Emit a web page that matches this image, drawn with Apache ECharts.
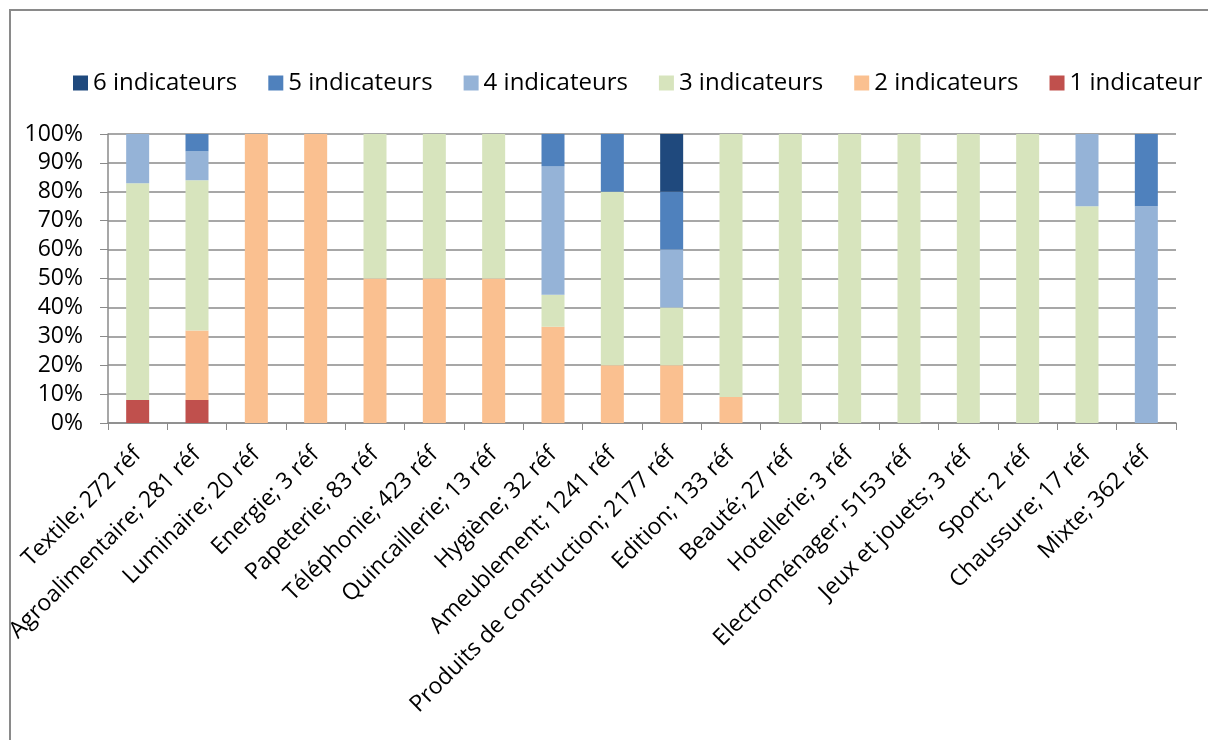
<!DOCTYPE html>
<html>
<head>
<meta charset="utf-8">
<script src="https://cdn.jsdelivr.net/npm/echarts@6/dist/echarts.min.js"></script>
<style>
  html, body { margin: 0; padding: 0; background: #fff; }
  #chart { width: 1208px; height: 740px; }
</style>
</head>
<body>
<div id="chart"></div>
<script>
// Secteurs et nombre de références
const categories = [
  'Textile; 272 réf', 'Agroalimentaire; 281 réf', 'Luminaire; 20 réf', 'Energie; 3 réf',
  'Papeterie; 83 réf', 'Téléphonie; 423 réf', 'Quincaillerie; 13 réf', 'Hygiène; 32 réf',
  'Ameublement; 1241 réf', 'Produits de construction; 2177 réf', 'Edition; 133 réf',
  'Beauté; 27 réf', 'Hotellerie; 3 réf', 'Electroménager; 5153 réf', 'Jeux et jouets; 3 réf',
  'Sport; 2 réf', 'Chaussure; 17 réf', 'Mixte; 362 réf'
];

// Part (%) des références par nombre d'indicateurs
const un     = [8, 8, 0, 0, 0, 0, 0, 0, 0, 0, 0, 0, 0, 0, 0, 0, 0, 0];
const deux   = [0, 24, 100, 100, 50, 50, 50, 33.3, 20, 20, 9, 0, 0, 0, 0, 0, 0, 0];
const trois  = [75, 52, 0, 0, 50, 50, 50, 11.1, 60, 20, 91, 100, 100, 100, 100, 100, 75, 0];
const quatre = [17, 10, 0, 0, 0, 0, 0, 44.5, 0, 20, 0, 0, 0, 0, 0, 0, 25, 75];
const cinq   = [0, 6, 0, 0, 0, 0, 0, 11.1, 20, 20, 0, 0, 0, 0, 0, 0, 0, 25];
const six    = [0, 0, 0, 0, 0, 0, 0, 0, 0, 20, 0, 0, 0, 0, 0, 0, 0, 0];

const yTicks = [0, 10, 20, 30, 40, 50, 60, 70, 80, 90, 100];

const seriesDefs = [
  { name: '1 indicateur',  data: un,     color: '#C0504D' },
  { name: '2 indicateurs', data: deux,   color: '#FAC090' },
  { name: '3 indicateurs', data: trois,  color: '#D7E4BD' },
  { name: '4 indicateurs', data: quatre, color: '#95B3D7' },
  { name: '5 indicateurs', data: cinq,   color: '#4F81BD' },
  { name: '6 indicateurs', data: six,    color: '#1F497D' }
];

const font = '"Open Sans", Lato, sans-serif';
const chart = echarts.init(document.getElementById('chart'));

chart.setOption({
  animation: false,
  backgroundColor: '#fff',
  graphic: [{
    type: 'rect',
    shape: { x: 10, y: 10, width: 1400, height: 900 },
    style: { fill: 'none', stroke: '#8a8a8a', lineWidth: 2 },
    silent: true,
    z: -1
  }],
  legend: {
    data: seriesDefs.map(s => s.name).reverse(),
    top: 71,
    left: 73,
    padding: 0,
    itemWidth: 15,
    itemHeight: 15,
    itemGap: 31,
    icon: 'rect',
    textStyle: { fontFamily: font, fontSize: 24, color: '#000' }
  },
  grid: { left: 108, right: 32, top: 134, bottom: 317, containLabel: false },
  xAxis: {
    type: 'category',
    data: categories,
    axisLine: { lineStyle: { color: '#8a8a8a', width: 1.5 } },
    axisTick: { show: true, length: 7, lineStyle: { color: '#8a8a8a' } },
    axisLabel: {
      rotate: 45,
      interval: 0,
      margin: 28,
      fontFamily: font,
      fontSize: 23,
      color: '#000'
    }
  },
  yAxis: {
    type: 'value',
    min: 0,
    max: 100,
    interval: 10,
    axisLine: { show: true, lineStyle: { color: '#8a8a8a', width: 1.5 } },
    axisTick: { show: true, length: 8, inside: false, lineStyle: { color: '#8a8a8a' } },
    splitLine: { show: true, lineStyle: { color: '#8a8a8a', width: 1.5 } },
    axisLabel: {
      fontFamily: font,
      fontSize: 23,
      color: '#000',
      margin: 25,
      customValues: yTicks,
      formatter: v => v + '%'
    }
  },
  series: seriesDefs.map(s => ({
    name: s.name,
    type: 'bar',
    stack: 'total',
    barWidth: 23,
    data: s.data,
    itemStyle: { color: s.color }
  }))
});
</script>
</body>
</html>
